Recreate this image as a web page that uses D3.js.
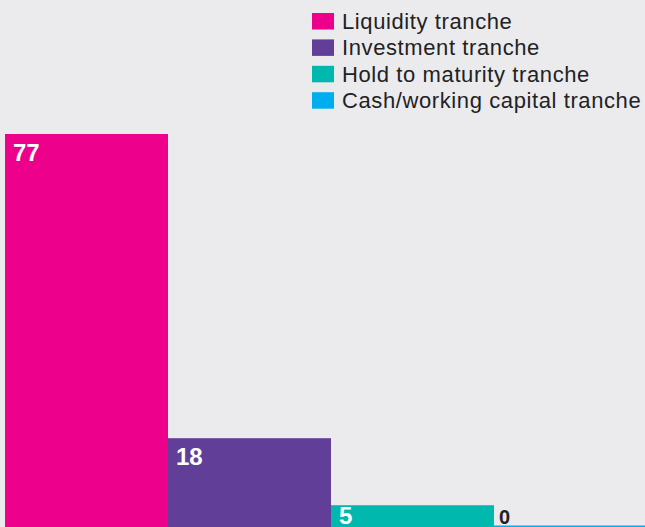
<!DOCTYPE html>
<html>
<head>
<meta charset="utf-8">
<script src="https://cdn.jsdelivr.net/npm/d3@7"></script>
<style>
  html, body { margin: 0; padding: 0; background: #ebebee; overflow: hidden; }
  svg { display: block; }
</style>
</head>
<body>
<div id="chart"></div>
<script>
// data
var categories = ["Liquidity tranche", "Investment tranche", "Hold to maturity tranche", "Cash/working capital tranche"];
var values = [77, 18, 5, 0];
var colors = ["#ec008c", "#613f99", "#00b8ae", "#00aeef"];

var width = 645, height = 527;
var margin = { left: 5, bottom: -4, top: 134 };

var svg = d3.select("#chart").append("svg")
  .attr("width", width)
  .attr("height", height);

svg.append("rect")
  .attr("width", width)
  .attr("height", height)
  .attr("fill", "#ebebee");

var x = d3.scaleBand()
  .domain(categories)
  .range([margin.left, margin.left + 163 * categories.length])
  .padding(0);

var y = d3.scaleLinear()
  .domain([0, d3.max(values)])
  .range([height - margin.bottom, margin.top]);

var minBarH = 5.5;

var bars = svg.append("g").attr("class", "bars");

bars.selectAll("rect")
  .data(values)
  .join("rect")
  .attr("x", function (d, i) { return x(categories[i]); })
  .attr("width", x.bandwidth())
  .attr("y", function (d) { return Math.min(y(d), y(0) - minBarH); })
  .attr("height", function (d) { return Math.max(y(0) - y(d), minBarH); })
  .attr("fill", function (d, i) { return colors[i]; });

// value labels, inside the bar unless it is too short
bars.selectAll("text")
  .data(values)
  .join("text")
  .attr("x", function (d, i) { return x(categories[i]) + (d > 0 ? 8 : 5); })
  .attr("y", function (d) {
    var top = Math.min(y(d), y(0) - minBarH);
    return d > 0 ? Math.min(top + 27, 524) : top - 2;
  })
  .attr("fill", function (d) { return d > 0 ? "#ffffff" : "#222222"; })
  .style("font-family", "'Liberation Sans', Arial, sans-serif")
  .style("font-weight", "bold")
  .style("font-size", function (d) { return d > 0 ? "24px" : "20px"; })
  .text(function (d) { return d; });

// legend
var legend = svg.append("g")
  .attr("class", "legend")
  .attr("transform", "translate(312,13)");

var rows = legend.selectAll("g")
  .data(categories)
  .join("g")
  .attr("transform", function (d, i) { return "translate(0," + (i * 26.4) + ")"; });

rows.append("rect")
  .attr("width", 22)
  .attr("height", 16.5)
  .attr("fill", function (d, i) { return colors[i]; });

rows.append("text")
  .attr("x", 30)
  .attr("y", 16)
  .attr("fill", "#222222")
  .style("font-family", "'Liberation Sans', Arial, sans-serif")
  .style("font-size", "22px")
  .style("letter-spacing", "0.6px")
  .text(function (d) { return d; });
</script>
</body>
</html>
